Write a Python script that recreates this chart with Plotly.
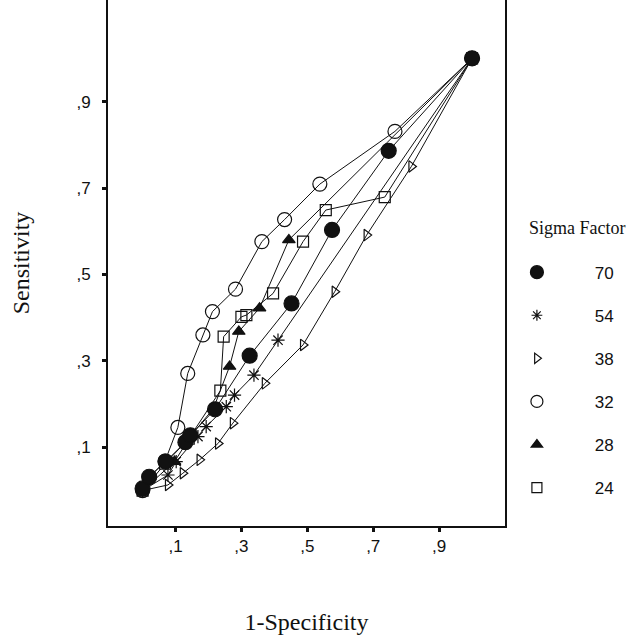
import plotly.graph_objects as go

# ROC curves (1-Specificity vs Sensitivity) for several sigma factors
sigma_factors = ["70", "54", "38", "32", "28", "24"]

fpr_70 = [0.0, 0.02, 0.07, 0.13, 0.145, 0.22, 0.325, 0.452, 0.575, 0.747, 1.0]
tpr_70 = [0.005, 0.032, 0.067, 0.112, 0.128, 0.188, 0.312, 0.433, 0.603, 0.786, 1.0]

fpr_54 = [0.0, 0.077, 0.102, 0.168, 0.193, 0.254, 0.279, 0.338, 0.411, 1.0]
tpr_54 = [0.0, 0.036, 0.067, 0.125, 0.148, 0.194, 0.221, 0.267, 0.348, 1.0]

fpr_38 = [0.0, 0.077, 0.122, 0.173, 0.229, 0.274, 0.371, 0.487, 0.583, 0.680, 0.816, 1.0]
tpr_38 = [0.0, 0.013, 0.040, 0.071, 0.109, 0.156, 0.248, 0.337, 0.460, 0.591, 0.750, 1.0]

fpr_32 = [0.0, 0.02, 0.068, 0.107, 0.137, 0.183, 0.212, 0.282, 0.362, 0.431, 0.538, 0.766, 1.0]
tpr_32 = [0.0, 0.03, 0.068, 0.146, 0.271, 0.360, 0.414, 0.466, 0.576, 0.627, 0.709, 0.831, 1.0]

fpr_28 = [0.0, 0.097, 0.145, 0.215, 0.264, 0.292, 0.355, 0.444, 1.0]
tpr_28 = [0.0, 0.067, 0.125, 0.19, 0.287, 0.368, 0.422, 0.580, 1.0]

fpr_24 = [0.0, 0.068, 0.14, 0.236, 0.246, 0.300, 0.315, 0.396, 0.487, 0.556, 0.735, 1.0]
tpr_24 = [0.0, 0.062, 0.12, 0.231, 0.356, 0.402, 0.406, 0.456, 0.576, 0.649, 0.679, 1.0]

tick_vals = [0.1, 0.3, 0.5, 0.7, 0.9]
tick_text = [",1", ",3", ",5", ",7", ",9"]

series = {
    "70": (fpr_70, tpr_70),
    "54": (fpr_54, tpr_54),
    "38": (fpr_38, tpr_38),
    "32": (fpr_32, tpr_32),
    "28": (fpr_28, tpr_28),
    "24": (fpr_24, tpr_24),
}

# marker symbol, size in plot, size in legend
marker_style = {
    "70": ("circle", 15, 13),
    "54": ("asterisk-open", 11, 9),
    "38": ("triangle-right-open", 10, 9),
    "32": ("circle-open", 14, 12),
    "28": ("triangle-up", 11, 10),
    "24": ("square-open", 11, 10),
}

INK = "#111111"
SERIF = "Liberation Serif, Times New Roman, serif"
SANS = "Liberation Sans, Arial, sans-serif"
fig = go.Figure()

# curves: draw the filled circles last so they sit on top
for name in reversed(sigma_factors):
    xs, ys = series[name]
    sym, size, _ = marker_style[name]
    fig.add_trace(go.Scatter(
        x=xs, y=ys, mode="lines+markers", name=name, showlegend=False,
        line=dict(color=INK, width=1),
        marker=dict(symbol=sym, size=size, color=INK,
                    line=dict(color=INK, width=1.2)),
    ))

# legend entries (markers only)
pad = "\u00a0" * 8
for name in sigma_factors:
    sym, _, lsize = marker_style[name]
    fig.add_trace(go.Scatter(
        x=[None], y=[None], mode="markers", name=pad + name,
        legendgroup=name, showlegend=True,
        marker=dict(symbol=sym, size=lsize, color=INK,
                    line=dict(color=INK, width=1.2)),
    ))

axis_common = dict(
    showgrid=False, zeroline=False, showline=True, linecolor=INK, linewidth=2,
    ticks="outside", ticklen=4, tickwidth=3, tickcolor=INK,
    tickvals=tick_vals, ticktext=tick_text,
    tickfont=dict(family=SANS, size=17, color=INK),
)

fig.update_layout(
    width=630, height=635,
    margin=dict(l=108, r=125, t=0, b=109),
    paper_bgcolor="white", plot_bgcolor="white",
    xaxis=dict(
        range=[-0.105, 1.1], mirror=False,
        title=dict(text="1-Specificity", standoff=58,
                   font=dict(family=SERIF, size=24, color=INK)),
        **axis_common,
    ),
    yaxis=dict(
        range=[-0.082, 1.135], mirror=True,
        ticklabelstandoff=8,
        title=dict(text="Sensitivity", standoff=40,
                   font=dict(family=SERIF, size=24, color=INK)),
        **axis_common,
    ),
    legend=dict(
        x=1.03, xanchor="left", y=0.516, yanchor="top",
        font=dict(family=SANS, size=17, color=INK),
        tracegroupgap=18, itemsizing="trace",
        bgcolor="rgba(0,0,0,0)",
    ),
    annotations=[dict(
        text="Sigma Factor", xref="paper", yref="paper",
        x=1.055, xanchor="left", y=(526 - 228) / 526, yanchor="middle",
        showarrow=False,
        font=dict(family=SERIF, size=18, color=INK),
    )],
)

fig.write_html("out.html")
